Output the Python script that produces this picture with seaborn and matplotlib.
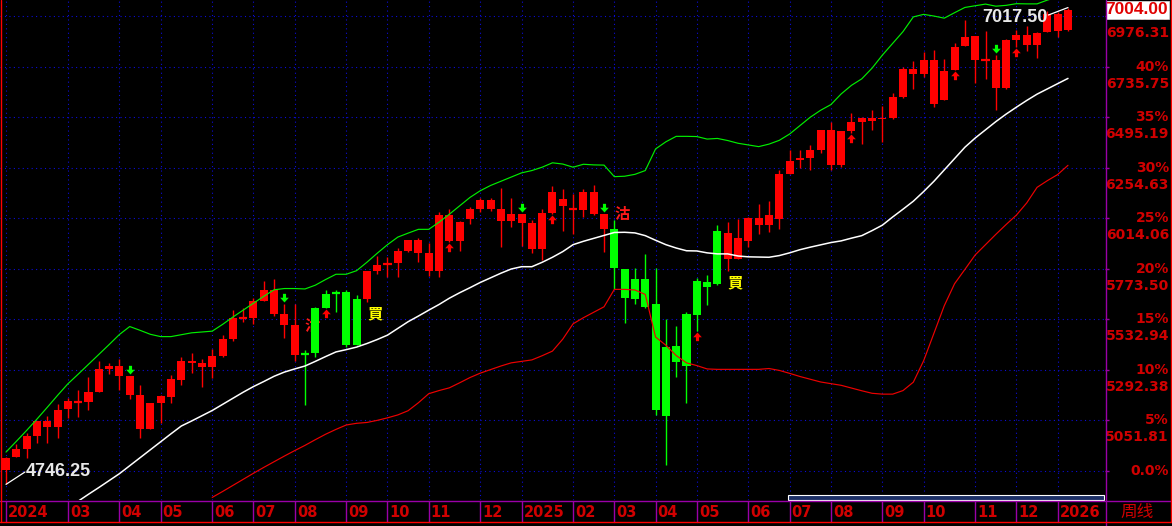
import numpy as np
import pandas as pd
import matplotlib
matplotlib.use("Agg")
import matplotlib.pyplot as plt
import matplotlib.transforms as mtransforms
from matplotlib.path import Path
from matplotlib.markers import MarkerStyle
from matplotlib.patches import Rectangle
from matplotlib.lines import Line2D
import seaborn as sns

W, H, DPI = 1172, 526, 100

# ---------------- data (weekly candles) ----------------
opens = [4815, 4877, 4915, 4978, 5021, 5021, 5104, 5140, 5140, 5188,
         5296, 5262, 5172, 5010, 5010, 5135, 5164, 5243, 5326, 5304,
         5304, 5358, 5437, 5540, 5540, 5620, 5558, 5505, 5362, 5366,
         5588, 5653, 5659, 5664, 5629, 5629, 5764, 5794, 5802, 5858,
         5850, 5764, 5764, 5905, 5907, 6010, 6058, 6058, 6002, 6002,
         5993, 5867, 5867, 6037, 6074, 6056, 6053, 6034, 5963, 5963,
         5772, 5724, 5724, 5605, 5402, 5405, 5558, 5715, 5712, 5953,
         5820, 5820, 5907, 5982, 5982, 6010, 6225, 6293, 6301, 6339,
         6267, 6267, 6429, 6472, 6478, 6485, 6493, 6590, 6701, 6701,
         6558, 6577, 6720, 6836, 6768, 6768, 6636, 6633, 6863, 6839,
         6839, 6902, 6906, 6910]
highs = [4876, 4938, 4989, 5050, 5072, 5129, 5156, 5196, 5259, 5335,
         5326, 5342, 5264, 5219, 5134, 5170, 5267, 5351, 5373, 5342,
         5390, 5458, 5577, 5586, 5632, 5715, 5724, 5605, 5605, 5386,
         5592, 5672, 5672, 5672, 5648, 5764, 5834, 5828, 5871, 5912,
         5918, 5894, 6045, 6056, 5999, 6069, 6109, 6112, 6156, 6109,
         6036, 6005, 6056, 6167, 6153, 6129, 6153, 6172, 6036, 6005,
         5774, 5778, 5844, 5778, 5534, 5500, 5569, 5728, 5743, 5982,
         5997, 6010, 6018, 6082, 6096, 6244, 6339, 6339, 6363, 6436,
         6474, 6431, 6514, 6495, 6529, 6548, 6609, 6736, 6763, 6804,
         6815, 6772, 6847, 6958, 6884, 6906, 6791, 6866, 6910, 6931,
         6900, 7001, 6995, 7017.5]
lows = [4746.25, 4875, 4873, 4945, 4942, 4966, 5064, 5069, 5100, 5187,
        5270, 5196, 5153, 4968, 5008, 5037, 5135, 5219, 5278, 5211,
        5254, 5355, 5430, 5520, 5509, 5618, 5550, 5442, 5335, 5124,
        5354, 5586, 5569, 5402, 5408, 5616, 5748, 5732, 5732, 5854,
        5807, 5740, 5732, 5903, 5859, 5985, 6045, 6048, 5875, 5971,
        5882, 5850, 5815, 6035, 5953, 5939, 6021, 6029, 5854, 5675,
        5516, 5605, 5587, 5077, 4838, 5259, 5135, 5478, 5600, 5698,
        5764, 5818, 5875, 5937, 5950, 5963, 6223, 6255, 6244, 6326,
        6244, 6259, 6420, 6368, 6434, 6378, 6486, 6588, 6630, 6688,
        6545, 6575, 6718, 6834, 6659, 6677, 6529, 6630, 6830, 6810,
        6778, 6900, 6876, 6906]
closes = [4873, 4913, 4977, 5048, 5048, 5100, 5143, 5140, 5185, 5296,
          5310, 5310, 5262, 5172, 5132, 5168, 5248, 5334, 5335, 5323,
          5358, 5439, 5540, 5540, 5620, 5672, 5672, 5558, 5505, 5366,
          5373, 5588, 5659, 5410, 5410, 5762, 5791, 5794, 5858, 5910,
          5910, 5850, 6029, 6029, 5997, 6058, 6101, 6101, 6058, 6034,
          6034, 5993, 6037, 6140, 6105, 6056, 6140, 6140, 6034, 5778,
          5635, 5629, 5589, 5100, 5072, 5330, 5311, 5553, 5688, 5700,
          5942, 5920, 6016, 6016, 6029, 6225, 6287, 6301, 6339, 6434,
          6434, 6429, 6472, 6493, 6493, 6493, 6590, 6725, 6725, 6768,
          6768, 6715, 6831, 6879, 6882, 6768, 6768, 6863, 6887, 6887,
          6898, 6987, 6987, 7004]
# signal state: r = long (red), g = short (green)
state = (['r'] * 29 + ['g'] * 6 + ['r'] * 24 + ['g'] * 11 + ['r'] * 34)

# Bollinger-style bands (NaN = below visible area)
upper = [4900, 4951, 5003, 5057, 5113, 5170, 5225, 5271, 5318, 5365,
         5412, 5460, 5498, 5480, 5461, 5450, 5450, 5459, 5468, 5472,
         5476, 5508, 5543, 5576, 5609, 5642, 5673, 5679, 5679, 5677,
         5695, 5722, 5747, 5747, 5764, 5804, 5847, 5888, 5924, 5943,
         5961, 5961, 5995, 6033, 6073, 6113, 6145, 6170, 6190, 6210,
         6230, 6241, 6257, 6278, 6272, 6257, 6271, 6268, 6267, 6212,
         6214, 6223, 6241, 6344, 6378, 6404, 6404, 6403, 6391, 6394,
         6384, 6371, 6363, 6355, 6367, 6385, 6415, 6455, 6495, 6528,
         6555, 6606, 6647, 6678, 6729, 6791, 6847, 6903, 6973, 6985,
         6977, 6967, 6993, 7018, 7026, 7034, 7024, 7028, 7036, 7035,
         7035, 7053, 7068, 7082]
mid = [np.nan] * 6 + [
         4634, 4666, 4699, 4731,
         4764, 4797, 4835, 4873, 4911, 4949, 4987, 5024, 5048, 5073,
         5098, 5127, 5156, 5185, 5212, 5236, 5261, 5281, 5296, 5310,
         5332, 5355, 5377, 5388, 5400, 5417, 5436, 5457, 5489, 5521,
         5548, 5576, 5603, 5633, 5659, 5683, 5708, 5730, 5752, 5772,
         5783, 5783, 5804, 5828, 5855, 5888, 5904, 5918, 5932, 5946,
         5947, 5944, 5931, 5909, 5888, 5872, 5859, 5858, 5849, 5844,
         5844, 5834, 5830, 5829, 5828, 5836, 5849, 5864, 5876, 5887,
         5898, 5906, 5919, 5931, 5955, 5981, 6020, 6057, 6095, 6141,
         6190, 6244, 6298, 6352, 6396, 6435, 6474, 6510, 6543, 6575,
         6605, 6630, 6655, 6680]
lower = [np.nan] * 20 + [
         4684, 4712, 4741, 4770, 4799, 4827, 4854, 4881, 4907, 4932,
         4959, 4985, 5008, 5029, 5037, 5041, 5051, 5063, 5077, 5097,
         5135, 5178, 5193, 5206, 5230, 5255, 5276, 5293, 5310, 5325,
         5332, 5339, 5359, 5381, 5438, 5511, 5540, 5566, 5592, 5675,
         5675, 5672, 5651, 5448, 5409, 5360, 5325, 5312, 5296, 5294,
         5294, 5294, 5294, 5294, 5298, 5289, 5275, 5260, 5247, 5234,
         5226, 5218, 5205, 5192, 5180, 5176, 5176, 5193, 5233, 5335,
         5466, 5597, 5702, 5770, 5839, 5888, 5937, 5984, 6029, 6087,
         6161, 6193, 6222, 6266]

sell_arrow_idx = [12, 27, 50, 58, 96]           # green down arrows
buy_arrow_idx = [31, 43, 53, 67, 82, 92, 98]     # red up arrows

month_labels = ["2024", "03", "04", "05", "06", "07", "08", "09", "10", "11",
                "12", "2025", "02", "03", "04", "05", "06", "07", "08", "09",
                "10", "11", "12", "2026"]
month_idx = [0, 6, 11, 15, 20, 24, 28, 33, 37, 41, 46, 50, 55, 59, 63, 67,
             72, 76, 80, 85, 89, 94, 98, 102]

base_price = 4811.25
pct_ticks = [0, 5, 10, 15, 20, 25, 30, 35, 40, 45]
pct_labels = ["0.0%", "5%", "10%", "15%", "20%", "25%", "30%", "35%", "40%", "45%"]
price_labels = ["", "5051.81", "5292.38", "5532.94", "5773.50", "6014.06",
                "6254.63", "6495.19", "6735.75", "6976.31"]

low_label, high_label, last_label = "4746.25", "7017.50", "7004.00"
signals = [(35.8, 5562, "買", "#ffff00"), (70.75, 5708, "買", "#ffff00"),
           (59.75, 6034, "沽", "#ff1a1a")]
hidden_signal = (29.7, 5500, "沽", "#ff1a1a")

# ---------------- style ----------------
sns.set_theme(style="dark")
plt.rcParams['font.family'] = ['DejaVu Sans', 'Noto Sans CJK SC']
plt.rcParams['axes.facecolor'] = 'black'
plt.rcParams['figure.facecolor'] = 'black'

RED = '#ff0000'
GREEN = '#00ff00'
AXRED = '#d00000'
PURPLE = '#9a00a8'
GRIDBLUE = '#0c0cd8'

fig = plt.figure(figsize=(W / DPI, H / DPI), dpi=DPI, facecolor='black')
ax = fig.add_axes([0, 26 / H, 1105 / W, 500 / H])
ax.set_facecolor('black')

def fx(px):
    return px / W

def fy(py):
    return 1 - py / H

n = len(opens)
idx = np.arange(n)
o = np.array(opens, float); c = np.array(closes, float)
h = np.array(highs, float); l = np.array(lows, float)
col = np.where(np.array(state) == 'g', GREEN, RED)
blo = np.minimum(o, c); bhi = np.maximum(o, c)

# wicks and bodies
ax.vlines(idx, l, h, colors=col, lw=1.0, zorder=3)
ax.bar(idx, bhi - blo, bottom=blo, width=0.78, color=col, linewidth=0, zorder=4)
doji = (bhi - blo) < 1e-9
ax.hlines(o[doji], idx[doji] - 0.39, idx[doji] + 0.39, colors=col[doji], lw=1.6, zorder=4)

# bands via seaborn
bands = pd.DataFrame({'idx': idx, 'upper': upper, 'mid': mid, 'lower': lower})
sns.lineplot(data=bands, x='idx', y='upper', color='#00ee00', lw=0.85, ax=ax, zorder=5, estimator=None)
sns.lineplot(data=bands, x='idx', y='mid', color='#ffffff', lw=1.1, ax=ax, zorder=5, estimator=None)
sns.lineplot(data=bands, x='idx', y='lower', color='#ee0000', lw=0.85, ax=ax, zorder=5, estimator=None)

# arrows
down_path = Path([(0, 0), (-0.5, 0.55), (-0.18, 0.55), (-0.18, 1.0), (0.18, 1.0),
                  (0.18, 0.55), (0.5, 0.55), (0, 0)])
up_path = Path([(x, -y) for x, y in down_path.vertices])
pxp = (7053.48 - 4671.68) / 500.0  # price per pixel
ax.plot(np.array(sell_arrow_idx), h[sell_arrow_idx] + 2 * pxp, ls='none',
        marker=MarkerStyle(down_path), ms=12.5, color=GREEN, mew=0, zorder=6)
ax.plot(np.array(buy_arrow_idx), l[buy_arrow_idx] - 1 * pxp, ls='none',
        marker=MarkerStyle(up_path), ms=12.5, color=RED, mew=0, zorder=6)

# signal characters
for xi, yi, t, cc in signals:
    ax.text(xi, yi, t, color=cc, fontsize=11, fontweight='bold',
            family=['Noto Sans CJK TC', 'DejaVu Sans'], ha='center', va='center', zorder=6)
xi, yi, t, cc = hidden_signal
ax.text(xi, yi, t, color=cc, fontsize=11, fontweight='bold',
        family=['Noto Sans CJK TC', 'DejaVu Sans'], ha='center', va='center', zorder=2)

# low / high labels with leader lines
ax.plot([0, 1.84], [lows[0], 4805], color='white', lw=0.9, zorder=6)
ax.text(1.94, 4807, low_label, color='#e8e8e8', fontsize=13, fontweight='bold',
        family='Liberation Sans', ha='left', va='center', zorder=7)
ax.plot([n - 1, 101.1], [highs[-1], 6982], color='white', lw=0.9, zorder=6)
ax.text(101.05, 6970, high_label, color='#e8e8e8', fontsize=13, fontweight='bold',
        family='Liberation Sans', ha='right', va='center', zorder=7)

# axes limits, grid
ax.set_xlim(-0.582, 106.59)
ax.set_ylim(4671.68, 7053.48)
ax.set_xlabel('')
ax.set_ylabel('')
tick_prices = [base_price * (1 + p / 100) for p in pct_ticks]
ax.set_xticks(month_idx)
ax.set_yticks(tick_prices)
ax.tick_params(axis='x', length=0, labelbottom=False)
ax.tick_params(axis='y', left=False, right=True, labelleft=False, labelright=False,
               length=3, width=1, color=PURPLE, direction='out')
ax.grid(True, color=GRIDBLUE, linestyle=(0, (1, 3)), linewidth=0.8)
ax.set_axisbelow(True)
for s in ax.spines.values():
    s.set_visible(False)

# right axis labels
blend_y = mtransforms.blended_transform_factory(fig.transFigure, ax.transData)
below = blend_y + mtransforms.ScaledTranslation(0, -17 / DPI, fig.dpi_scale_trans)
for tp, pl, prl in zip(tick_prices, pct_labels, price_labels):
    ax.text(fx(1169), tp, pl, transform=blend_y, ha='right', va='center', color=AXRED,
            fontsize=10, fontweight='bold', family='DejaVu Sans', clip_on=False)
    if prl:
        ax.text(fx(1169), tp, prl, transform=below, ha='right', va='center', color=AXRED,
                fontsize=10, fontweight='bold', family='DejaVu Sans', clip_on=False)

# last price box
fig.patches.append(Rectangle((fx(1106), fy(19)), fx(63), 18 / H, transform=fig.transFigure,
                             facecolor='white', edgecolor='#dddddd', lw=0.5, zorder=10))
fig.text(fx(1168), fy(10), last_label, ha='right', va='center', color='#e00000',
         fontsize=12.5, fontweight='bold', family='Liberation Sans', zorder=11)

# month axis
blend_x = mtransforms.blended_transform_factory(ax.transData, fig.transFigure)
for mi, ml in zip(month_idx, month_labels):
    ax.add_line(Line2D([mi, mi], [fy(501), fy(522)], transform=blend_x, color=PURPLE,
                       lw=1.0, clip_on=False))
    ax.text(mi + 0.2, fy(512.5), ml, transform=blend_x, ha='left', va='center', color=AXRED,
            fontsize=10.5, fontweight='bold', family='DejaVu Sans', clip_on=False)
fig.text(fx(1137), fy(512), "周线", ha='center', va='center', color=AXRED, fontsize=12,
         family=['Noto Sans CJK SC', 'DejaVu Sans'])

# scrollbar
fig.patches.append(Rectangle((fx(788), fy(500)), fx(316), 5.5 / H, transform=fig.transFigure,
                             facecolor='#1c2f66', edgecolor='white', lw=0.8, zorder=10))

# frame lines
def fline(x0, y0, x1, y1, color, lw=1.0):
    fig.lines.append(Line2D([fx(x0), fx(x1)], [fy(y0), fy(y1)], transform=fig.transFigure,
                            color=color, lw=lw, zorder=12))

fline(0, 500.5, W, 500.5, PURPLE)
fline(1105.5, 0, 1105.5, H, PURPLE)
fline(0.6, 0, 0.6, 522, RED)
fline(1170.8, 0, 1170.8, 522, RED)
fline(0, 522, W, 522, RED)

fig.savefig("out.png", dpi=DPI, facecolor='black')
